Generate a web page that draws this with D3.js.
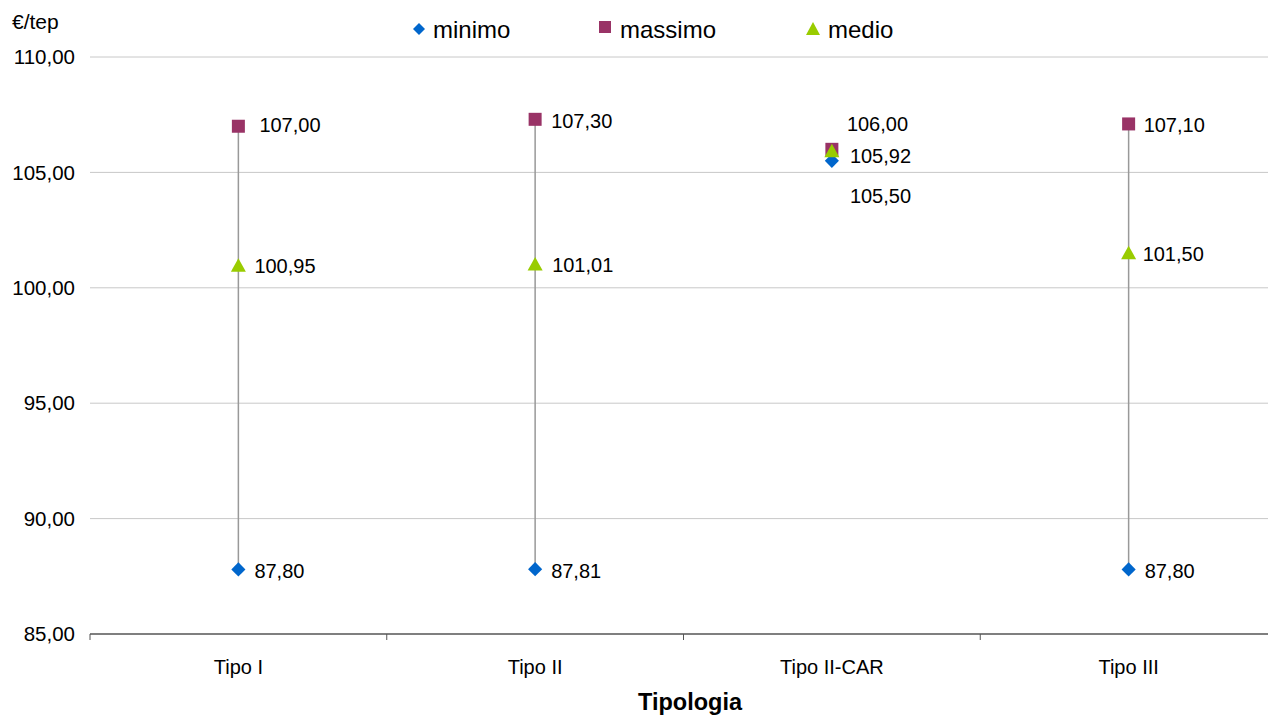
<!DOCTYPE html>
<html><head><meta charset="utf-8">
<script src="https://cdn.jsdelivr.net/npm/d3@7"></script>
<style>body{margin:0;background:#fff}svg{display:block;font-family:"Liberation Sans",Arial,sans-serif}</style>
</head><body><svg id="c" width="1268" height="716"></svg>
<script>
const categories = ["Tipo I","Tipo II","Tipo II-CAR","Tipo III"];
const minimo  = [87.80, 87.81, 105.50, 87.80];
const massimo = [107.00, 107.30, 106.00, 107.10];
const medio   = [100.95, 101.01, 105.92, 101.50];
const yTicks  = [85,90,95,100,105,110];
// label offsets (layout only): [dx, dy] per category
const offMin = [[16,2],[16,2],[18,35],[16,2]];
const offMax = [[21,-1],[16,2],[15,-25],[15,1]];
const offMed = [[16,0],[17,1],[18,5],[14,1]];

const fmt = v => v.toFixed(2).replace(".", ",");
const svg = d3.select("#c");
const L = 90, R = 1277, T = 57, B = 634;
const x = d3.scaleBand().domain(categories).range([L, R]);
const y = d3.scaleLinear().domain([85,110]).range([B, T]);

// gridlines
svg.append("g").selectAll("line").data(yTicks.filter(d=>d>85)).join("line")
  .attr("x1", L).attr("x2", R).attr("y1", d=>y(d)).attr("y2", d=>y(d))
  .attr("stroke", "#c8c8c8").attr("stroke-width", 1);

// y axis labels
svg.append("g").selectAll("text").data(yTicks).join("text")
  .attr("x", 75).attr("y", d=>y(d)).attr("dy","0.35em").attr("text-anchor","end")
  .attr("font-size", 20.5).attr("fill","#000").text(d=>fmt(d));

// x axis
const xa = svg.append("g").attr("transform", `translate(0,${B})`);
xa.append("line").attr("x1", L).attr("x2", R).attr("stroke","#555").attr("stroke-width",1.3);
const bounds = categories.map(c=>x(c)).concat([R]);
xa.selectAll("line.t").data(bounds).join("line").attr("class","t")
  .attr("x1", d=>d).attr("x2", d=>d).attr("y1",0).attr("y2",6).attr("stroke","#555");
xa.selectAll("text").data(categories).join("text")
  .attr("x", d=>x(d)+x.bandwidth()/2).attr("y", 40).attr("text-anchor","middle")
  .attr("font-size", 20).text(d=>d);

svg.append("text").attr("x", 690).attr("y", 710).attr("text-anchor","middle")
  .attr("font-size", 23.5).attr("font-weight","bold").text("Tipologia");
svg.append("text").attr("x", 12).attr("y", 29).attr("font-size", 21).text("€/tep");

const cx = c => x(c) + x.bandwidth()/2;

// high-low lines
svg.append("g").selectAll("line").data(categories).join("line")
  .attr("x1", cx).attr("x2", cx)
  .attr("y1", (c,i)=>y(minimo[i])).attr("y2", (c,i)=>y(massimo[i]))
  .attr("stroke","#999").attr("stroke-width",1.5);

const cMin = "#0066cc", cMax = "#993366", cMed = "#99cc00";
const diamond = d3.symbol().type(d3.symbolSquare).size(100)();
const tri = "M0,-7.5L7.5,6L-7.5,6Z";

// massimo
svg.append("g").selectAll("rect").data(categories).join("rect")
  .attr("x", c=>cx(c)-6.5).attr("y", (c,i)=>y(massimo[i])-6.5)
  .attr("width",13).attr("height",13).attr("fill", cMax);
// minimo
svg.append("g").selectAll("path").data(categories).join("path")
  .attr("d", diamond).attr("fill", cMin)
  .attr("transform", (c,i)=>`translate(${cx(c)},${y(minimo[i])}) rotate(45)`);
// medio
svg.append("g").selectAll("path").data(categories).join("path")
  .attr("d", tri).attr("fill", cMed)
  .attr("transform", (c,i)=>`translate(${cx(c)},${y(medio[i])})`);

function labels(vals, off){
  svg.append("g").selectAll("text").data(categories).join("text")
    .attr("x", (c,i)=>cx(c)+off[i][0]).attr("y", (c,i)=>y(vals[i])+off[i][1])
    .attr("dy","0.35em").attr("font-size",20).text((c,i)=>fmt(vals[i]));
}
labels(minimo, offMin); labels(massimo, offMax); labels(medio, offMed);

// legend
const lg = svg.append("g").attr("font-size", 24);
lg.append("path").attr("d", d3.symbol().type(d3.symbolSquare).size(72)())
  .attr("transform","translate(419,29) rotate(45)").attr("fill", cMin);
lg.append("text").attr("x",433).attr("y",30).attr("dy","0.35em").text("minimo");
lg.append("rect").attr("x",599).attr("y",21).attr("width",12).attr("height",12).attr("fill",cMax);
lg.append("text").attr("x",620).attr("y",30).attr("dy","0.35em").text("massimo");
lg.append("path").attr("d","M0,-7L7,6L-7,6Z").attr("transform","translate(813,29)").attr("fill",cMed);
lg.append("text").attr("x",828).attr("y",30).attr("dy","0.35em").text("medio");
</script></body></html>
